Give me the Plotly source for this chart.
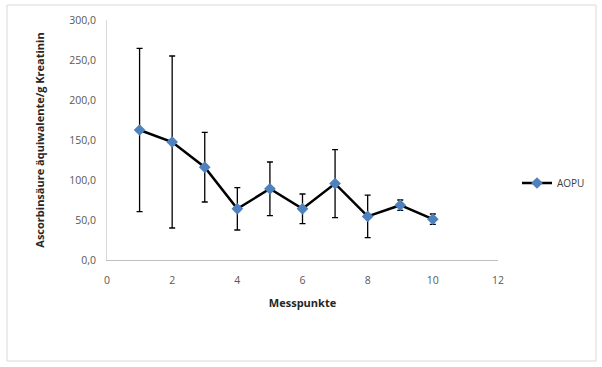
import plotly.graph_objects as go

x_vals = [1, 2, 3, 4, 5, 6, 7, 8, 9, 10]
y_vals = [162.5, 147.5, 116.0, 64.0, 89.0, 64.0, 95.5, 54.5, 68.5, 51.0]
err_vals = [102.0, 107.5, 43.5, 26.5, 33.5, 18.5, 42.5, 26.5, 6.5, 6.5]
series_name = "AOPU"

W, H = 602, 367
L, R, T, B = 107, 104, 20, 107
pw, ph = W - L - R, H - T - B

def px(xp):
    return (xp - L) / pw

def py(yp):
    return (H - B - yp) / ph

fig = go.Figure()
fig.add_trace(go.Scatter(
    x=x_vals, y=y_vals, name=series_name, mode="lines+markers",
    line=dict(color="black", width=2.5),
    marker=dict(symbol="diamond", size=9, color="#4f81bd", line=dict(width=0)),
    error_y=dict(type="data", array=err_vals, visible=True, color="black", thickness=1.3, width=3),
))

fig.update_layout(
    width=W, height=H,
    margin=dict(l=L, r=R, t=T, b=B),
    paper_bgcolor="white", plot_bgcolor="white",
    separators=",.",
    font=dict(family="Open Sans, Liberation Sans, sans-serif", size=10, color="#595959"),
    showlegend=True,
    legend=dict(x=px(517), y=py(183), xanchor="left", yanchor="middle",
                font=dict(size=10, color="#404040"), bgcolor="rgba(0,0,0,0)", itemwidth=30),
    xaxis=dict(range=[0, 12], tickvals=[0, 2, 4, 6, 8, 10, 12], showgrid=False, zeroline=False,
               showline=True, linecolor="#bfbfbf", linewidth=1, ticks="", ticklen=0,
               ticklabelstandoff=10,
               title=dict(text="<b>Messpunkte</b>", font=dict(size=11, color="#262626"), standoff=13),
               tickfont=dict(color="#595959", size=10.5)),
    yaxis=dict(range=[0, 300], tickvals=[0, 50, 100, 150, 200, 250, 300], tickformat=".1f",
               showgrid=False, zeroline=False, showline=True, linecolor="#d9d9d9", linewidth=1,
               ticks="", ticklen=0, ticklabelstandoff=8,
               title=dict(text="<b>Ascorbinsäure äquiwalente/g Kreatinin</b>", font=dict(size=11, color="#262626"), standoff=22),
               tickfont=dict(color="#595959", size=10.5)),
    shapes=[dict(type="rect", xref="paper", yref="paper",
                 x0=px(7), x1=px(596), y0=py(361), y1=py(5),
                 line=dict(color="#d9d9d9", width=1), fillcolor="rgba(0,0,0,0)", layer="below")],
)

fig.write_html("out.html", config={"displayModeBar": False},
               post_script="document.body.style.margin='0';document.body.style.overflow='hidden';")
